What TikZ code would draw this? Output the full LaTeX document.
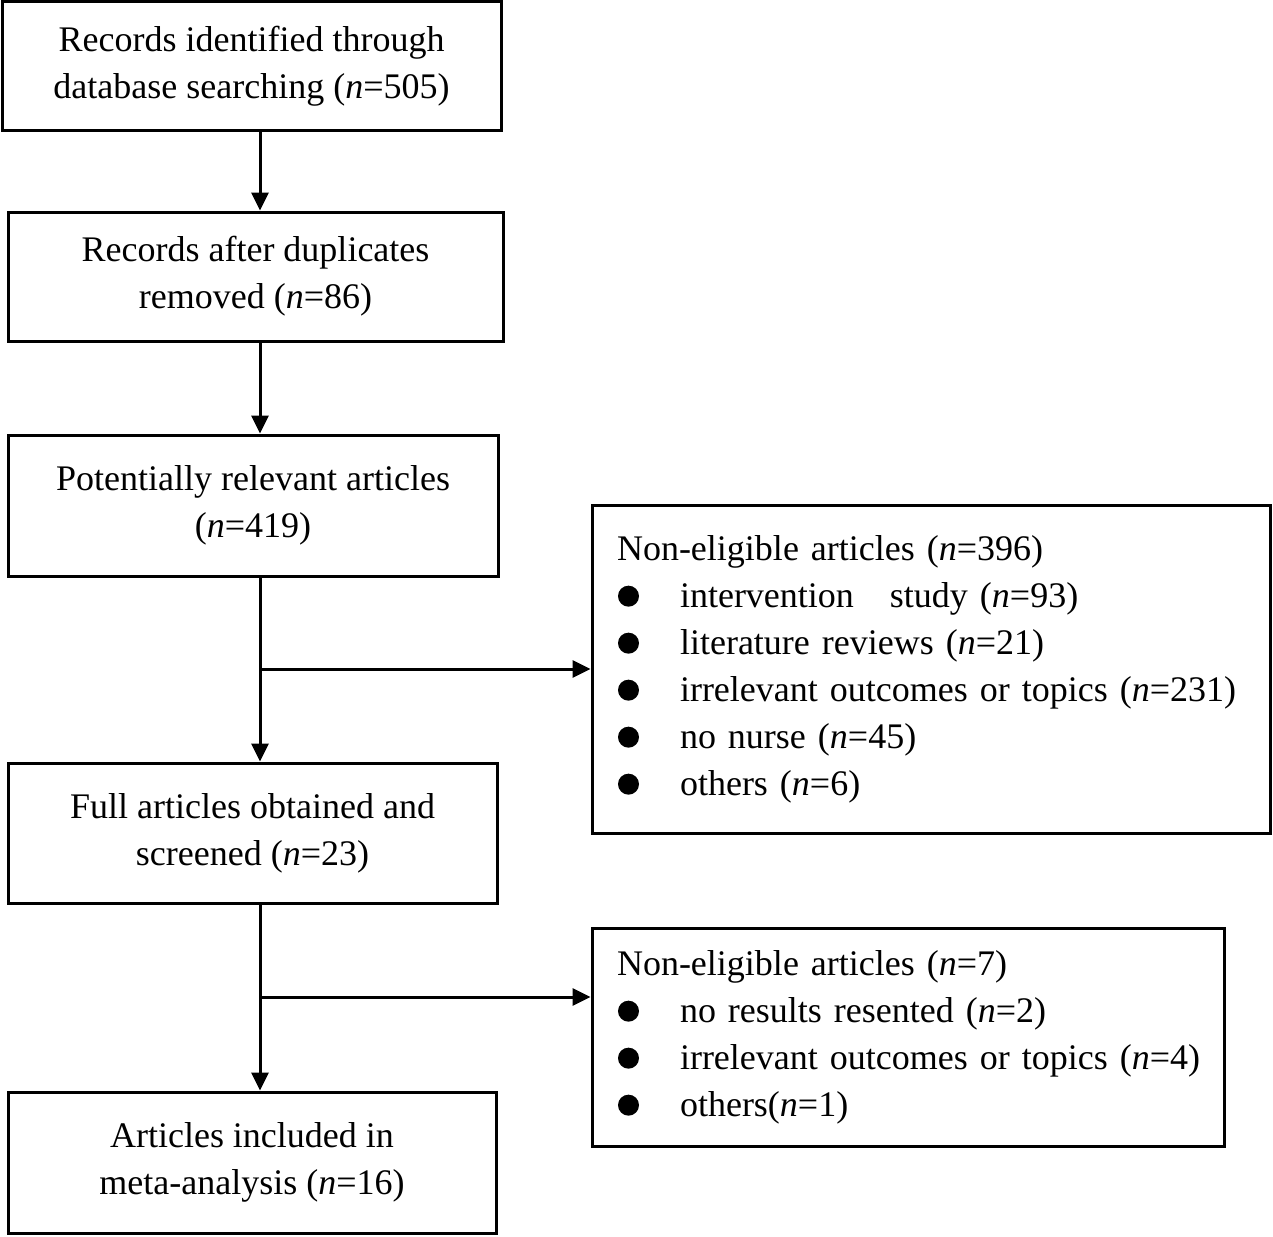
\documentclass[tikz,border=0pt]{standalone}
\usepackage{fontspec}
\setmainfont{Liberation Serif}
\usetikzlibrary{positioning, arrows.meta}

\newcommand{\bulletdot}{\tikz[baseline=-11pt]\fill (0pt,0pt) circle[radius=10.5pt];}
\newcommand{\listitem}[1]{\mbox{\makebox[63pt][l]{\hspace{1pt}\bulletdot}#1}}

\begin{document}
\begin{tikzpicture}[x=1pt, y=-1pt, >={Triangle[length=18pt, width=17pt]},
		box/.style={draw, rectangle, line width=3pt, align=center, font=\fontsize{36}{47}\selectfont},
		listbox/.style={draw, rectangle, line width=3pt, align=left, inner xsep=25pt, font=\fontsize{36}{47}\selectfont}]
		\useasboundingbox (0, 0) rectangle (1273, 1236);
		\coordinate (axis) at (260, 0);
		\node[box, minimum width=499pt, minimum height=128pt] (records) at (251.5, 66) {Records identified through\\database searching (\textit{n}=505)};
		\node[box, minimum width=495pt, minimum height=129pt] (dedup) at (255.5, 276.5) {Records after duplicates\\removed (\textit{n}=86)};
		\node[box, minimum width=490pt, minimum height=141pt] (relevant) at (253, 505.5) {Potentially relevant articles\\(\textit{n}=419)};
		\node[box, minimum width=489pt, minimum height=140pt] (full) at (252.5, 833) {Full articles obtained and\\screened (\textit{n}=23)};
		\node[box, minimum width=488pt, minimum height=141pt] (included) at (252, 1162.5) {Articles included in\\meta-analysis (\textit{n}=16)};
		\node[listbox, text width=628pt, minimum height=328pt] (excl1) at (931, 669) {\mbox{Non-eligible articles (\textit{n}=396)}\\
			\listitem{intervention\ \ \ study (\textit{n}=93)}\\
			\listitem{literature reviews (\textit{n}=21)}\\
			\listitem{irrelevant outcomes or topics (\textit{n}=231)}\\
			\listitem{no nurse (\textit{n}=45)}\\
			\listitem{others (\textit{n}=6)}};
		\node[listbox, text width=582pt, minimum height=218pt] (excl2) at (908, 1037) {\mbox{Non-eligible articles (\textit{n}=7)}\\
			\listitem{no results resented (\textit{n}=2)}\\
			\listitem{irrelevant outcomes or topics (\textit{n}=4)}\\
			\listitem{others(\textit{n}=1)}};
		\coordinate (split2) at (260, 997);
		\draw [->, line width=3pt] (records.south -| axis) -- (dedup.north -| axis);
		\draw [->, line width=3pt] (dedup.south -| axis) -- (relevant.north -| axis);
		\draw [->, line width=3pt] (relevant.south -| axis) -- (full.north -| axis);
		\draw [->, line width=3pt] (axis |- excl1.west) -- (excl1.west);
		\draw [->, line width=3pt] (full.south -| axis) -- (included.north -| axis);
		\draw [->, line width=3pt] (split2) -- (split2 -| excl2.west);
	\end{tikzpicture}
\end{document}
